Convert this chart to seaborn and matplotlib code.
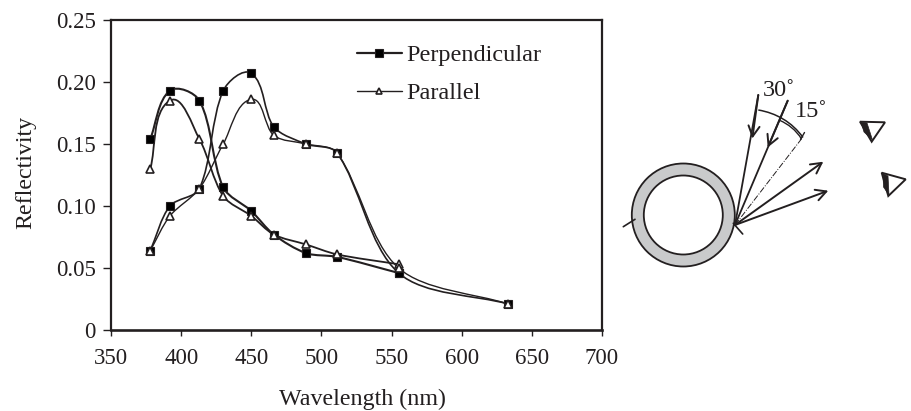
import numpy as np
import pandas as pd
import matplotlib
matplotlib.use('Agg')
import matplotlib.pyplot as plt
import seaborn as sns
from matplotlib.lines import Line2D
from matplotlib.patches import Circle, PathPatch, Polygon
from matplotlib.path import Path

# values
wavelength_30 = [378, 392, 413, 430, 450, 466, 489, 511, 555]
perp_30 = [0.154, 0.193, 0.185, 0.115, 0.096, 0.077, 0.062, 0.059, 0.046]
par_30 = [0.130, 0.185, 0.154, 0.108, 0.092, 0.077, 0.069, 0.061, 0.053]
wavelength_15 = [378, 392, 413, 430, 450, 466, 489, 511, 555, 633]
perp_15 = [0.064, 0.100, 0.114, 0.193, 0.207, 0.164, 0.150, 0.143, 0.046, 0.021]
par_15 = [0.064, 0.092, 0.114, 0.150, 0.186, 0.157, 0.150, 0.143, 0.050, 0.021]

x_ticks = [350, 400, 450, 500, 550, 600, 650, 700]
y_ticks = [0, 0.05, 0.10, 0.15, 0.20, 0.25]
y_labels = ['0', '0.05', '0.10', '0.15', '0.20', '0.25']

INK = '#231f20'

sns.set_style('ticks')
plt.rcParams['font.family'] = ['Liberation Serif', 'DejaVu Serif']
plt.rcParams['text.color'] = INK


def smooth_path(ax, xs, ys):
    # smoothed line through every point, handles sized by segment length in pixels
    pts = ax.transData.transform(np.column_stack([xs, ys]).astype(float))
    tangents = []
    for i in range(len(pts)):
        d = pts[min(i + 1, len(pts) - 1)] - pts[max(i - 1, 0)]
        tangents.append(d / np.hypot(*d))
    verts = [pts[0]]
    codes = [Path.MOVETO]
    for i in range(len(pts) - 1):
        seg = np.hypot(*(pts[i + 1] - pts[i]))
        verts += [pts[i] + tangents[i] * seg * 0.3,
                  pts[i + 1] - tangents[i + 1] * seg * 0.3,
                  pts[i + 1]]
        codes += [Path.CURVE4] * 3
    return Path(ax.transData.inverted().transform(np.array(verts)), codes)


fig = plt.figure(figsize=(9.11, 4.11), dpi=100)
ax = fig.add_axes([111 / 911, 1 - 330 / 411, (602 - 111) / 911, (330 - 20) / 411])
ax.set_xlim(350, 700)
ax.set_ylim(0, 0.25)

series = [(wavelength_30, perp_30, 's', 'black', 1.5, 6.2, 0.8),
          (wavelength_15, perp_15, 's', 'black', 1.2, 6.2, 0.8),
          (wavelength_30, par_30, '^', 'white', 1.3, 5.6, 1.2),
          (wavelength_15, par_15, '^', 'white', 1.0, 5.6, 1.2)]
for xs, values, marker, face, lw, size, edge in series:
    df = pd.DataFrame({'wavelength': xs, 'reflectivity': values})
    ax.add_patch(PathPatch(smooth_path(ax, xs, values), fill=False, edgecolor=INK, lw=lw, zorder=2))
    sns.lineplot(data=df, x='wavelength', y='reflectivity', ax=ax, linestyle='', marker=marker,
                 markersize=size, markerfacecolor=face, markeredgecolor=INK, markeredgewidth=edge,
                 errorbar=None, sort=False, zorder=3)

ax.set_xlim(350, 700)
ax.set_ylim(0, 0.25)
ax.set_xticks(x_ticks)
ax.set_yticks(y_ticks)
ax.set_yticklabels(y_labels)
ax.tick_params(axis='x', labelsize=16.5, length=4, width=1, color=INK, labelcolor=INK, pad=9)
ax.tick_params(axis='y', labelsize=16.5, length=6, width=1, color=INK, labelcolor=INK, pad=5)
for side in ax.spines:
    ax.spines[side].set_visible(True)
    ax.spines[side].set_linewidth(1.6)
    ax.spines[side].set_color(INK)
ax.spines['bottom'].set_linewidth(1.9)
ax.set_xlabel('Wavelength (nm)', fontsize=17.3, color=INK)
ax.set_ylabel('Reflectivity', fontsize=17.3, color=INK)
ax.xaxis.set_label_coords((362 - 111) / 491, -(399 - 330) / 310, transform=ax.transAxes)
ax.xaxis.label.set_va('center')
ax.yaxis.set_label_coords(-(111 - 26) / 491, (330 - 172) / 310, transform=ax.transAxes)
ax.yaxis.label.set_va('center')

handles = [Line2D([], [], color=INK, lw=1.6, marker='s', ms=6.2, mfc='black', mec=INK, mew=0.8),
           Line2D([], [], color=INK, lw=1.0, marker='^', ms=5, mfc='white', mec=INK, mew=1.2)]
ax.legend(handles, ['Perpendicular', 'Parallel'], frameon=False, fontsize=17.5, handlelength=1.85,
          handletextpad=0.2, labelspacing=0.66, loc='upper left',
          bbox_to_anchor=(0.5006, 0.922), borderaxespad=0, borderpad=0)

# schematic on the right, drawn in pixel coordinates of the figure
sk = fig.add_axes([0, 0, 1, 1], facecolor='none')
sk.set_xlim(0, 911)
sk.set_ylim(411, 0)
sk.axis('off')
sk.add_patch(Circle((683.3, 215), 51.5, fc='#c9cacb', ec=INK, lw=1.3))
sk.add_patch(Circle((683.3, 215), 39.5, fc='white', ec=INK, lw=1.3))

origin = (735, 225)
head = dict(arrowstyle='->,head_length=0.75,head_width=0.4', color=INK, lw=1.4, shrinkA=0, shrinkB=0)
for end in [(823.3, 161.7), (828.3, 190.7)]:
    sk.annotate('', xy=end, xytext=origin, arrowprops=head)
for start, mid in [((758.3, 95), (752.3, 138.5)), ((787.7, 100.7), (767.7, 147.5))]:
    sk.plot([start[0], origin[0]], [start[1], origin[1]], color=INK, lw=1.3)
    sk.annotate('', xy=mid, xytext=start, arrowprops=head)
sk.plot([origin[0], 802.7], [origin[1], 137.3], color=INK, lw=0.7, ls='-.')
sk.plot([623.3, 635], [226.7, 219.3], color=INK, lw=1.2)
sk.plot([733.3, 742.7], [223.3, 234], color=INK, lw=1.2)
sk.plot([800.5, 804.5], [139.5, 132.5], color=INK, lw=1.0)

# the two angle arcs
sk.add_patch(PathPatch(Path([(758.3, 110), (776, 113), (792, 122), (803, 137.5)],
                            [Path.MOVETO, Path.CURVE4, Path.CURVE4, Path.CURVE4]),
                       fill=False, ec=INK, lw=1.1))
sk.add_patch(PathPatch(Path([(780, 120.5), (788, 124), (796, 130), (801.5, 139)],
                            [Path.MOVETO, Path.CURVE4, Path.CURVE4, Path.CURVE4]),
                       fill=False, ec=INK, lw=1.0))
sk.text(763, 91, '30˚', fontsize=17.5, va='center', ha='left', family=['Liberation Serif', 'DejaVu Serif'])
sk.text(795, 111, '15˚', fontsize=17.5, va='center', ha='left', family=['Liberation Serif', 'DejaVu Serif'])

# eyes
sk.add_patch(Polygon([(860, 121.7), (885, 122.3), (871.7, 141.7)], closed=True, fc='white', ec=INK, lw=1.4))
sk.add_patch(Polygon([(861, 122), (867, 123), (872.5, 140), (864, 132)], closed=True, fc=INK, ec=INK, lw=0.5))
sk.add_patch(Polygon([(881.7, 172.7), (905.7, 179.3), (888.3, 196)], closed=True, fc='white', ec=INK, lw=1.4))
sk.add_patch(Polygon([(883, 173.5), (888, 176), (889, 195), (883.5, 187)], closed=True, fc=INK, ec=INK, lw=0.5))

fig.savefig('out.png', dpi=100)
